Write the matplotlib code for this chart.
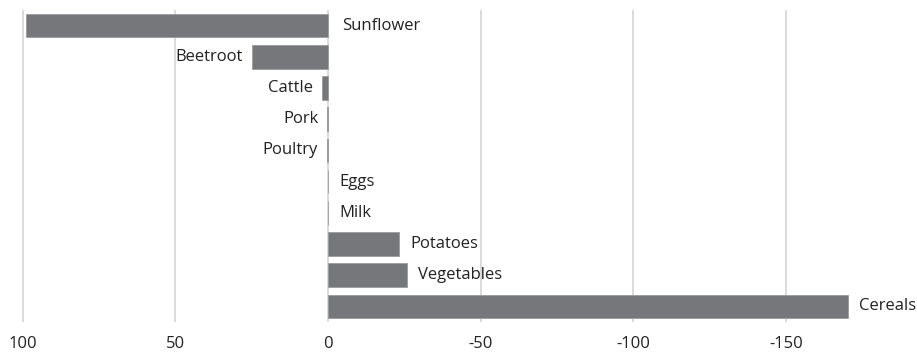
import matplotlib.pyplot as plt

# data (positive = left side of the reversed axis)
categories = ['Sunflower', 'Beetroot', 'Cattle', 'Pork', 'Poultry',
              'Eggs', 'Milk', 'Potatoes', 'Vegetables', 'Cereals']
values = [99, 25, 2, 0.3, 0.4, 0, 0, -23.4, -25.9, -170.3]
xticks = [100, 50, 0, -50, -100, -150]
xticklabels = ['100', '50', '0', '-50', '-100', '-150']

plt.rcParams['font.family'] = ['Open Sans', 'DejaVu Sans']

fig = plt.figure(figsize=(9.17, 3.57), dpi=100)
ax = fig.add_axes([0, 35 / 357, 1, 312 / 357])

ypos = list(range(len(categories)))
ax.barh(ypos, values, height=0.76, color='#76777b', edgecolor='#9a9b9e',
        linewidth=0.6, zorder=3)

# labels: left of the bar end for positive values, right for others,
# the longest positive bar gets its label next to zero
px = 3.054  # pixels per unit
for y, v, name in zip(ypos, values, categories):
    if v > 80:
        ax.text(-14 / px, y, name, ha='left', va='center', fontsize=12, color='#222222')
    elif v > 0:
        ax.text(v + 9 / px, y, name, ha='right', va='center', fontsize=12, color='#222222')
    else:
        ax.text(v - 11 / px, y, name, ha='left', va='center', fontsize=12, color='#222222')

ax.set_xlim(107.5, -193)
ax.set_ylim(len(categories) - 0.5, -0.5)
ax.set_yticks([])
ax.set_xticks(xticks)
ax.set_xticklabels(xticklabels, fontsize=12, color='#222222')
ax.tick_params(axis='x', length=0, pad=10)
ax.grid(axis='x', color='#d4d4d4', linewidth=1.2, zorder=0)
for s in ax.spines.values():
    s.set_visible(False)

fig.savefig('out.png', dpi=100)
